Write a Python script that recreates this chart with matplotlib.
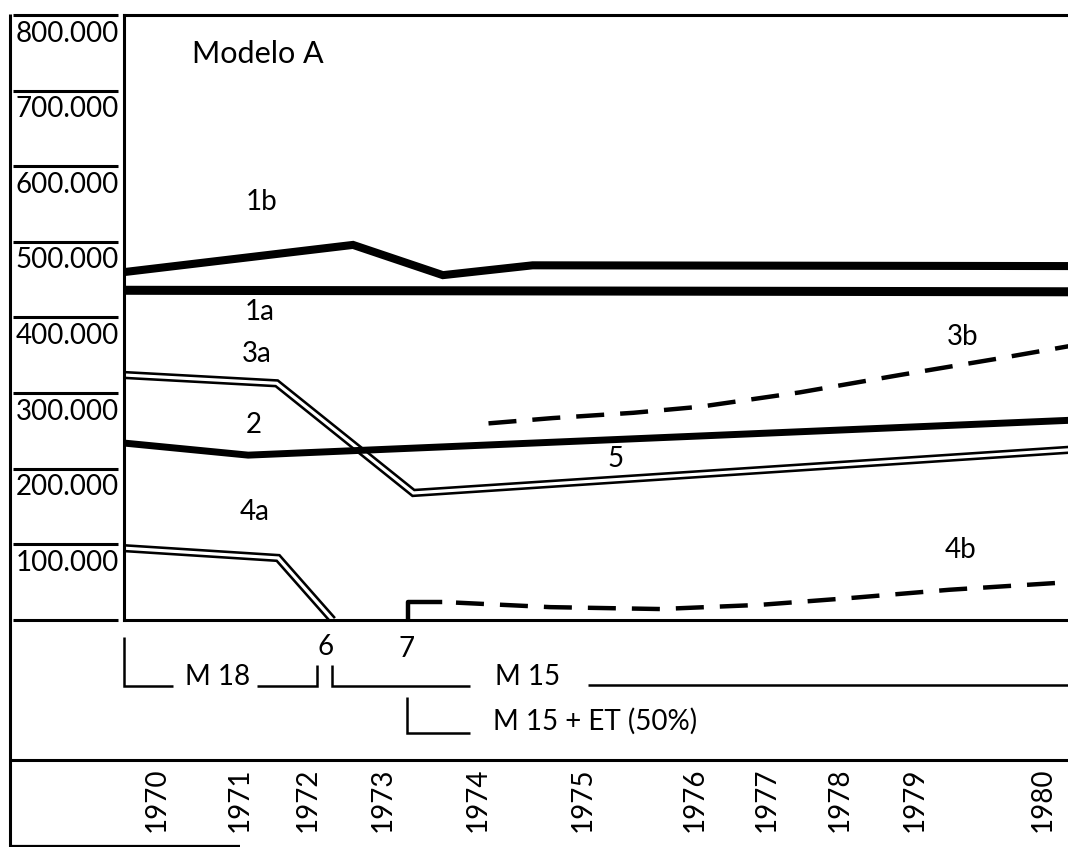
"""
Modelo A - redrawn from the scanned chart
"""

import numpy as np
import matplotlib.pyplot as plt
from matplotlib.lines import Line2D

plt.rcParams['font.family'] = ['Lato', 'DejaVu Sans']

#***************** Data ***************#

years = [1970, 1971, 1972, 1973, 1974, 1975, 1976, 1977, 1978, 1979, 1980]
y_ticks = [0, 100000, 200000, 300000, 400000, 500000, 600000, 700000, 800000]
y_labels = ['', '100.000', '200.000', '300.000', '400.000',
            '500.000', '600.000', '700.000', '800.000']

# 1b and 1a (thick)
yr_1b = [1969.6, 1972.6, 1973.63, 1974.52, 1980.2]
v_1b = [460000, 496000, 456000, 469000, 468000]
yr_1a = [1969.6, 1980.2]
v_1a = [436000, 434000]
# 2 (thick)
yr_2 = [1969.6, 1971.12, 1980.2]
v_2 = [234000, 218000, 264000]
# 3a -> 5 (double line)
yr_3a = [1969.6, 1971.54, 1973.32, 1980.2]
v_3a = [324000, 313000, 168000, 225000]
# 4a (double line)
yr_4a = [1969.6, 1971.56, 1972.33]
v_4a = [95000, 82000, 0]
# 3b (dashed)
yr_3b = [1974.10, 1974.71, 1975.45, 1976.07, 1977.45, 1978.8, 1979.66, 1980.2]
v_3b = [260000, 267000, 274000, 282000, 301000, 324000, 346000, 362000]
# 4b (hook + dashed)
yr_4b = [1973.26, 1973.26, 1973.6, 1974.69, 1975.69, 1976.9, 1978.13, 1979.27, 1980.2]
v_4b = [4000, 24000, 24000, 17000, 14500, 20000, 29000, 40000, 50000]

#***************** Layout ***************#

W, H = 1068, 847
# the hand drawn year axis is not evenly spaced: pixel of each year label
TICK_PX = np.array([157, 240, 308, 383, 478, 583, 695, 767, 840, 915, 1043], dtype=float)
TICK_YR = np.array(years, dtype=float)


def to_px(x):
	x = np.asarray(x, dtype=float)
	p = np.interp(x, TICK_YR, TICK_PX)
	p = np.where(x < TICK_YR[0], TICK_PX[0] + (x - TICK_YR[0]) * (TICK_PX[1] - TICK_PX[0]), p)
	p = np.where(x > TICK_YR[-1], TICK_PX[-1] + (x - TICK_YR[-1]) * (TICK_PX[-1] - TICK_PX[-2]), p)
	return p


def from_px(p):
	p = np.asarray(p, dtype=float)
	x = np.interp(p, TICK_PX, TICK_YR)
	x = np.where(p < TICK_PX[0], TICK_YR[0] + (p - TICK_PX[0]) / (TICK_PX[1] - TICK_PX[0]), x)
	x = np.where(p > TICK_PX[-1], TICK_YR[-1] + (p - TICK_PX[-1]) / (TICK_PX[-1] - TICK_PX[-2]), x)
	return x


def fig_line(xs, ys, lw=1.8):
	# decorative frame / bracket line in image pixels
	fig.add_artist(Line2D([x / W for x in xs], [1 - y / H for y in ys],
	                      transform=fig.transFigure, color='k', lw=lw,
	                      solid_joinstyle='miter', solid_capstyle='butt'))


def fig_text(x, y, s, size=20, ha='left'):
	fig.text(x / W, 1 - y / H, s, fontsize=size, ha=ha, va='baseline')


fig = plt.figure(figsize=(W / 100, H / 100), dpi=100)
ax = fig.add_axes([124 / W, 1 - 620 / H, (W - 124) / W, (620 - 15) / H])

ax.set_xscale('function', functions=(to_px, from_px))
ax.set_xlim(float(from_px(124)), float(from_px(W)))
ax.set_ylim(0, 800000)

#***************** Lines ***************#

def double_line(x, y):
	ax.plot(x, y, color='k', lw=6, solid_joinstyle='miter', solid_capstyle='butt', zorder=2)
	ax.plot(x, y, color='w', lw=2.3, solid_joinstyle='miter', solid_capstyle='butt', zorder=2)

double_line(yr_3a, v_3a)
double_line(yr_4a, v_4a)
ax.plot(yr_1b, v_1b, color='k', lw=5.8, solid_joinstyle='miter', zorder=3)
ax.plot(yr_1a, v_1a, color='k', lw=6.5, zorder=3)
ax.plot(yr_2, v_2, color='k', lw=5.0, solid_joinstyle='miter', zorder=3)
ax.plot(yr_3b, v_3b, color='k', lw=3.2, linestyle=(0, (6.3, 3.6)), zorder=3)
ax.plot(yr_4b[:3], v_4b[:3], color='k', lw=3.2, solid_joinstyle='round', zorder=3)
ax.plot(yr_4b[2:], v_4b[2:], color='k', lw=3.2, linestyle=(6.3, (6.3, 3.6)), zorder=3)

#***************** Axes ***************#

for s in ['left', 'top', 'bottom']:
	ax.spines[s].set_linewidth(2.2)
ax.spines['right'].set_visible(False)

ax.set_yticks([])
ax.set_xticks(years)
ax.set_xticklabels([str(y) for y in years])
ax.tick_params(axis='x', length=0, pad=106, labelsize=20, labelrotation=90)

ytr = ax.get_yaxis_transform()
x0 = (13 - 124) / (W - 124)
x1 = (118 - 124) / (W - 124)
ax.hlines(y_ticks, x0, x1, transform=ytr, colors='k', lw=2.2, clip_on=False)
for v, lab in zip(y_ticks, y_labels):
	ax.annotate(lab, xy=(x1 + 0.001, v), xycoords=ytr, xytext=(0, -4),
	            textcoords='offset points', ha='right', va='top', fontsize=20,
	            annotation_clip=False)

# frame of the table
fig_line([10, 10], [14, 847], lw=2.2)
fig_line([10, W], [760, 760], lw=2.2)
fig_line([10, 240], [846, 846], lw=1.6)

# period brackets
fig_line([124, 124, 173], [637, 686, 686])
fig_line([257, 317, 317], [686, 686, 665])
fig_line([332, 332, 470], [665, 686, 686])
fig_line([588, W], [685, 685])
fig_line([407, 407, 470], [697, 733, 733])

#***************** Texts ***************#

fig_text(192, 63, 'Modelo A', size=22)
fig_text(262, 210, '1b', ha='center')
fig_text(260, 320, '1a', ha='center')
fig_text(257, 362, '3a', ha='center')
fig_text(254, 433, '2', ha='center')
fig_text(255, 520, '4a', ha='center')
fig_text(616, 467, '5', ha='center')
fig_text(963, 345, '3b', ha='center')
fig_text(961, 558, '4b', ha='center')
fig_text(326, 655, '6', ha='center')
fig_text(407, 657, '7', ha='center')
fig_text(185, 685, 'M 18')
fig_text(495, 685, 'M 15')
fig_text(493, 730, 'M 15 + ET (50%)')

fig.savefig('out.png', dpi=100)
